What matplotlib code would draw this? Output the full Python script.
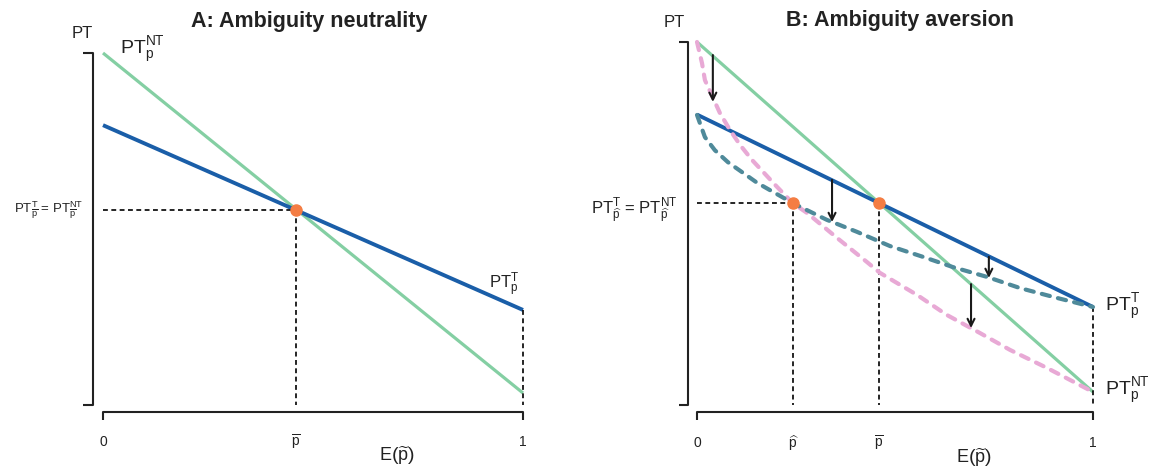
import matplotlib
matplotlib.use("Agg")
import matplotlib.pyplot as plt
import numpy as np

plt.rcParams['font.family'] = ['Liberation Sans', 'DejaVu Sans']
plt.rcParams['mathtext.fontset'] = 'custom'
plt.rcParams['mathtext.rm'] = 'Liberation Sans'
plt.rcParams['mathtext.it'] = 'Liberation Sans:italic'
plt.rcParams['mathtext.bf'] = 'Liberation Sans:bold'
plt.rcParams['lines.scale_dashes'] = False

# ---------------- data ----------------
titles = ["A: Ambiguity neutrality", "B: Ambiguity aversion"]
p_bar = 0.46
p_hat = 0.242

# Panel A
greenA_x = [0.0, 1.0]
greenA_y = [1.0, 0.034]
blueA_x = [0.0, 1.0]
blueA_y = [0.795, 0.27]
crossA_y = 0.553

# Panel B
greenB_x = [0.0, 1.0]
greenB_y = [1.0, 0.036]
blueB_x = [0.0, 1.0]
blueB_y = [0.80, 0.27]
crossB_y = 0.557
hatB_y = 0.556

pinkB_x = [0.0, 0.0126, 0.020, 0.058, 0.083, 0.109, 0.139, 0.202, 0.242, 0.278,
           0.354, 0.429, 0.462, 0.556, 0.631, 0.715, 0.790, 0.884, 1.0]
pinkB_y = [1.0, 0.942, 0.895, 0.804, 0.758, 0.716, 0.675, 0.601, 0.556, 0.529,
           0.460, 0.394, 0.364, 0.303, 0.248, 0.198, 0.152, 0.102, 0.036]

tealB_x = [0.0, 0.020, 0.045, 0.078, 0.152, 0.242, 0.328, 0.404, 0.487, 0.571,
           0.646, 0.732, 0.816, 0.909, 1.0]
tealB_y = [0.799, 0.738, 0.702, 0.669, 0.612, 0.556, 0.510, 0.477, 0.438, 0.408,
           0.380, 0.353, 0.322, 0.295, 0.270]

arrows_x = [0.040, 0.341, 0.737, 0.692]
arrows_y0 = [0.964, 0.620, 0.408, 0.333]
arrows_y1 = [0.835, 0.504, 0.350, 0.212]

# ---------------- styles ----------------
GREEN = '#84cfa3'
BLUE = '#1a5ea8'
TEAL = '#4f8a9a'
PINK = '#e8a9d5'
ORANGE = '#f47d43'
AX = '#222222'
TXT = '#222222'

PBAR = r'\overline{\mathrm{p}}'
PHAT = r'\widehat{\mathrm{p}}'
PTIL = r'\widetilde{\mathrm{p}}'

W, H = 1156, 470
fig = plt.figure(figsize=(W / 100, H / 100), dpi=100)


def make_ax(x0, x1, y0, y1, xlim, ylim):
    left = x0 + (x1 - x0) * xlim[0]
    right = x0 + (x1 - x0) * xlim[1]
    bot = y0 - (y0 - y1) * ylim[0]
    top = y0 - (y0 - y1) * ylim[1]
    ax = fig.add_axes([left / W, (H - bot) / H, (right - left) / W, (bot - top) / H])
    ax.set_xlim(*xlim)
    ax.set_ylim(*ylim)
    ax.axis('off')
    return ax


def frame(ax, sx, xa, tick_x, tick_y):
    kw = dict(color=AX, lw=1.5, clip_on=False, solid_capstyle='butt')
    ax.plot([sx - tick_x, sx, sx, sx - tick_x], [1.0, 1.0, 0.0, 0.0], **kw)
    ax.plot([0, 0, 1, 1], [xa - tick_y, xa, xa, xa - tick_y], **kw)


def dashed_black(ax, xs, ys):
    ax.plot(xs, ys, color='black', lw=1.2, dashes=(3.5, 2.5), clip_on=False)


# ================= Panel A =================
axA = make_ax(103, 523, 405, 53, (-0.06, 1.03), (-0.07, 1.04))
frame(axA, -0.024, -0.02, 0.024, 0.023)
axA.plot(greenA_x, greenA_y, color=GREEN, lw=2.3, solid_capstyle='butt')
axA.plot(blueA_x, blueA_y, color=BLUE, lw=2.8, solid_capstyle='butt')
dashed_black(axA, [0, p_bar], [crossA_y, crossA_y])
dashed_black(axA, [p_bar, p_bar], [crossA_y, 0.0])
dashed_black(axA, [1, 1], [blueA_y[-1], 0.0])
axA.plot([p_bar], [crossA_y], 'o', color=ORANGE, ms=8, zorder=5)

axA.text(0.49, 1.09, titles[0], ha='center', va='center', fontsize=15.5,
         fontweight='bold', color=TXT)
axA.text(-0.05, 1.055, 'PT', ha='center', va='center', fontsize=12, color=TXT)
axA.text(0.04, 1.01, r'PT$_{\mathrm{p}}^{\mathrm{NT}}$', ha='left', va='center',
         fontsize=14, color=TXT)
axA.text(0.99, 0.34, r'PT$_{\mathrm{p}}^{\mathrm{T}}$', ha='right', va='center',
         fontsize=12, color=TXT)
axA.text(-0.047, crossA_y, r'PT$_{%s}^{\mathrm{T}}$ = PT$_{%s}^{\mathrm{NT}}$' % (PBAR, PBAR),
         ha='right', va='center', fontsize=9.5, color=TXT)
for xv, lab in [(0, '0'), (p_bar, r'$%s$' % PBAR), (1, '1')]:
    axA.text(xv, -0.105, lab, ha='center', va='center', fontsize=10, color=TXT)
axA.text(0.70, -0.145, r'E$\left(%s\right)$' % PTIL, ha='center', va='center',
         fontsize=13, color=TXT)

# ================= Panel B =================
axB = make_ax(697, 1093, 405, 42, (-0.06, 1.03), (-0.07, 1.04))
frame(axB, -0.023, -0.019, 0.023, 0.022)
axB.plot(greenB_x, greenB_y, color=GREEN, lw=2.3, solid_capstyle='butt', zorder=2)
axB.plot(blueB_x, blueB_y, color=BLUE, lw=2.8, solid_capstyle='butt', zorder=2)
axB.plot(pinkB_x, pinkB_y, color=PINK, lw=3.0, dashes=(6, 6),
         dash_capstyle='round', zorder=3)
axB.plot(tealB_x, tealB_y, color=TEAL, lw=3.0, dashes=(6, 6),
         dash_capstyle='round', zorder=3)
dashed_black(axB, [0, p_hat], [hatB_y, hatB_y])
dashed_black(axB, [p_hat, p_hat], [hatB_y, 0.0])
dashed_black(axB, [p_bar, p_bar], [crossB_y, 0.0])
dashed_black(axB, [1, 1], [blueB_y[-1], 0.0])
axB.plot([p_hat, p_bar], [hatB_y, crossB_y], 'o', color=ORANGE, ms=8, zorder=5)

for xa, ya0, ya1 in zip(arrows_x, arrows_y0, arrows_y1):
    axB.annotate('', xy=(xa, ya1), xytext=(xa, ya0),
                 arrowprops=dict(arrowstyle='->,head_length=0.5,head_width=0.25',
                                 color='#1a1a1a', lw=1.5, shrinkA=0, shrinkB=0),
                 zorder=6)

axB.text(0.513, 1.058, titles[1], ha='center', va='center', fontsize=15.5,
         fontweight='bold', color=TXT)
axB.text(-0.058, 1.055, 'PT', ha='center', va='center', fontsize=12, color=TXT)
axB.text(1.03, 0.27, r'PT$_{\mathrm{p}}^{\mathrm{T}}$', ha='left', va='center',
         fontsize=14, color=TXT, clip_on=False)
axB.text(1.03, 0.04, r'PT$_{\mathrm{p}}^{\mathrm{NT}}$', ha='left', va='center',
         fontsize=14, color=TXT, clip_on=False)
axB.text(-0.05, hatB_y - 0.02, r'PT$_{%s}^{\mathrm{T}}$ = PT$_{%s}^{\mathrm{NT}}$' % (PHAT, PHAT),
         ha='right', va='center', fontsize=12, color=TXT)
for xv, lab in [(0, '0'), (p_hat, r'$%s$' % PHAT), (p_bar, r'$%s$' % PBAR), (1, '1')]:
    axB.text(xv, -0.105, lab, ha='center', va='center', fontsize=10, color=TXT)
axB.text(0.70, -0.145, r'E$\left(%s\right)$' % PTIL, ha='center', va='center',
         fontsize=13, color=TXT)

fig.savefig('out.png', dpi=100)
